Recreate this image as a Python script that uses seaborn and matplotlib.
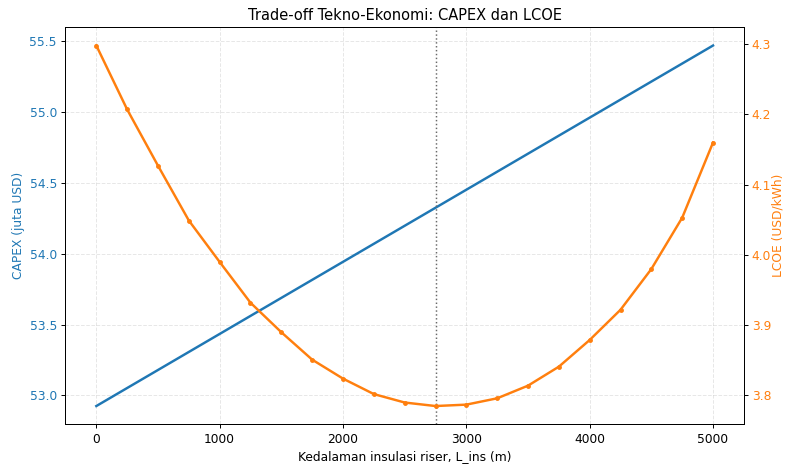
import pandas as pd
import matplotlib
matplotlib.use('Agg')
import matplotlib.pyplot as plt
import seaborn as sns

# data
l_ins = [0, 250, 500, 750, 1000, 1250, 1500, 1750, 2000, 2250, 2500,
         2750, 3000, 3250, 3500, 3750, 4000, 4250, 4500, 4750, 5000]
capex_x = [0, 5000]
capex = [52.925, 55.47]
lcoe = [4.298, 4.207, 4.127, 4.049, 3.990, 3.932, 3.890, 3.851, 3.824, 3.802,
        3.790, 3.785, 3.787, 3.796, 3.814, 3.841, 3.879, 3.922, 3.980, 4.053,
        4.160]
l_opt = 2750

df_capex = pd.DataFrame({'L_ins': capex_x, 'CAPEX': capex})
df_lcoe = pd.DataFrame({'L_ins': l_ins, 'LCOE': lcoe})

c1 = 'tab:blue'
c2 = 'tab:orange'

# 788x466 px at dpi 88
fig, ax1 = plt.subplots(figsize=(788 / 88, 466 / 88), dpi=88)
sns.lineplot(data=df_capex, x='L_ins', y='CAPEX', color=c1, linewidth=2, ax=ax1)
ax1.set_xlabel('Kedalaman insulasi riser, L_ins (m)')
ax1.set_ylabel('CAPEX (juta USD)', color=c1)
ax1.tick_params(axis='y', labelcolor=c1)
ax1.grid(True, linestyle='--', alpha=0.3)

ax2 = ax1.twinx()
sns.lineplot(data=df_lcoe, x='L_ins', y='LCOE', color=c2, linewidth=2,
             marker='o', markersize=4, markeredgewidth=0, ax=ax2)
ax2.set_ylabel('LCOE (USD/kWh)', color=c2, labelpad=0)
ax2.tick_params(axis='y', labelcolor=c2, pad=3)

ax1.axvline(l_opt, color='dimgray', linestyle=':', linewidth=1.2)
ax1.set_title('Trade-off Tekno-Ekonomi: CAPEX dan LCOE')

plt.subplots_adjust(left=0.0831, right=0.944, top=0.941, bottom=0.09)
plt.savefig('out.png', dpi=88)
plt.close()
